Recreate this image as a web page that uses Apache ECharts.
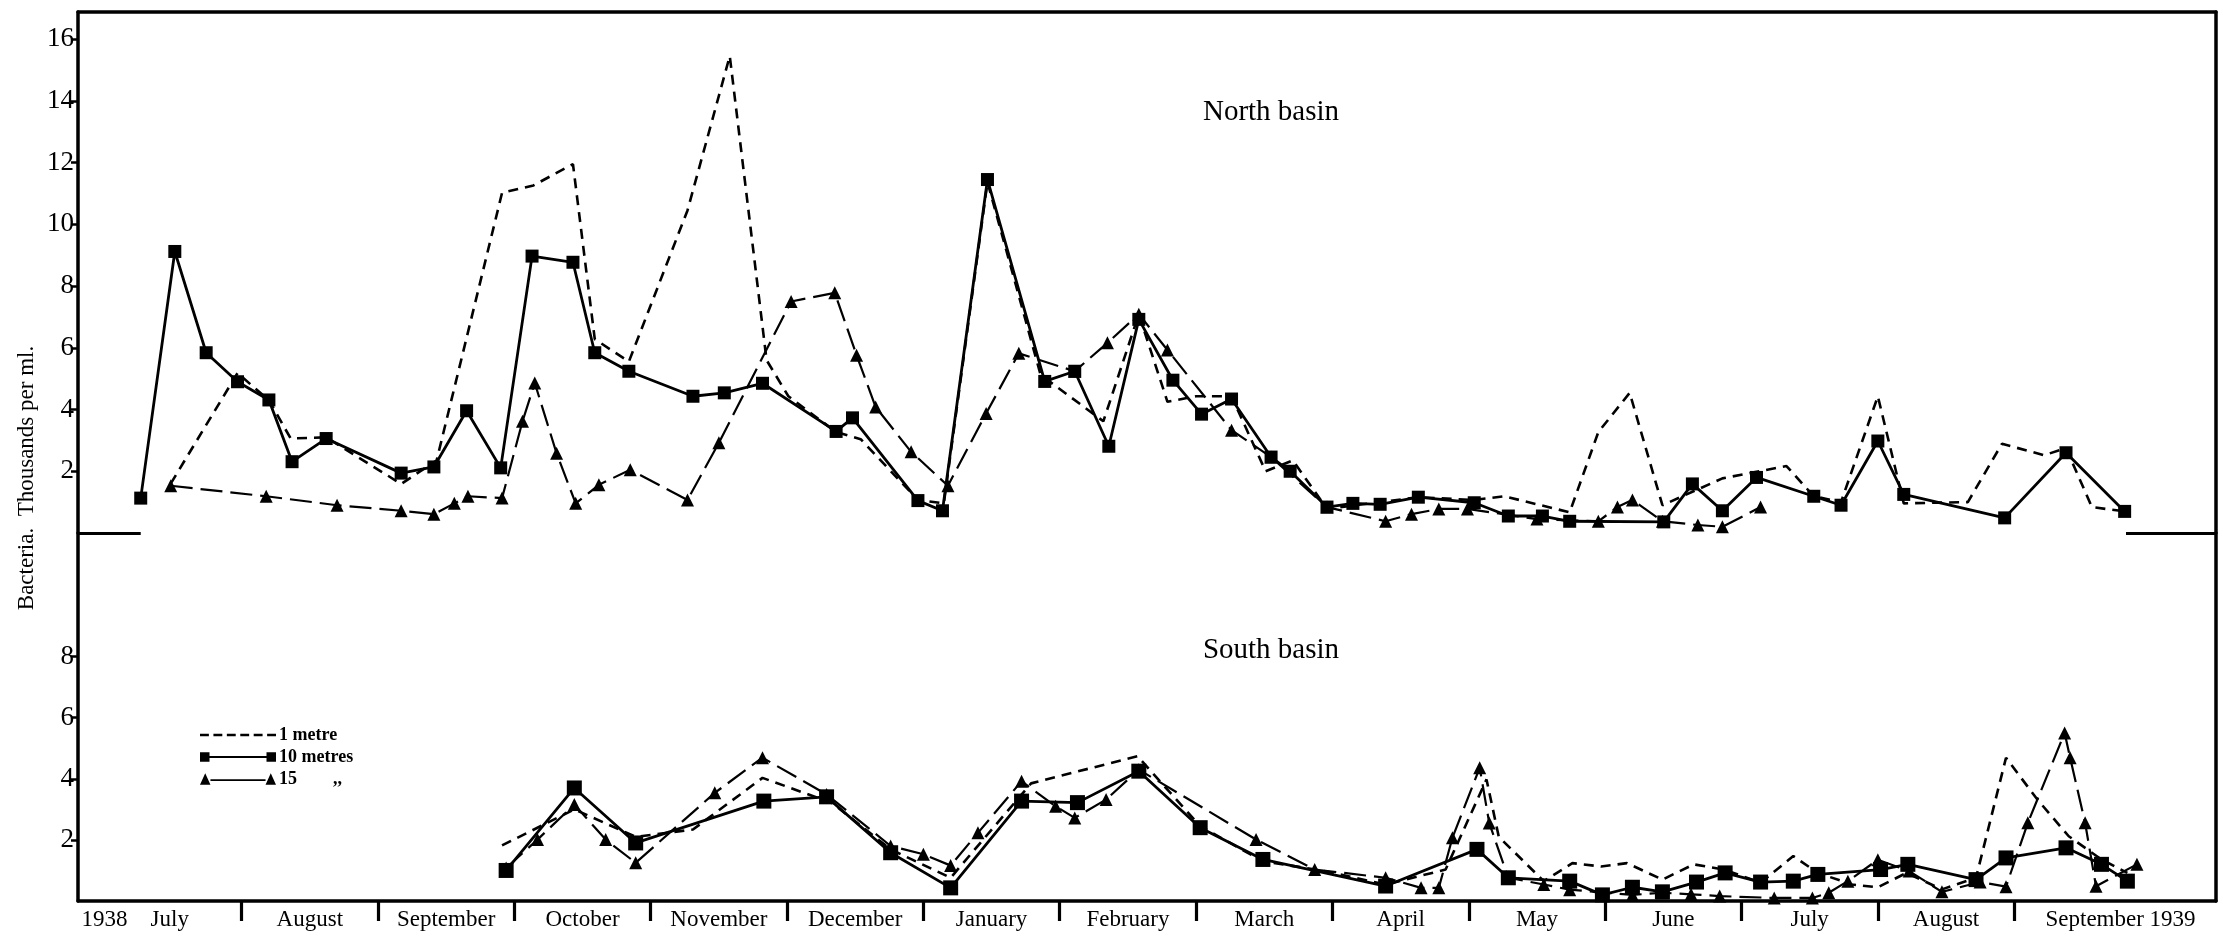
<!DOCTYPE html>
<html>
<head>
<meta charset="utf-8">
<script src="https://cdn.jsdelivr.net/npm/echarts@6/dist/echarts.min.js"></script>
<style>
  html, body { margin: 0; padding: 0; background: #fff; }
  #chart { width: 2223px; height: 937px; }
</style>
</head>
<body>
<div id="chart"></div>
<script>
// x = months since 1 July 1938 (1 = Aug 1938 ... 14 = Sep 1939), y = thousands per ml
const monthTicks = [1, 2, 3, 4, 5, 6, 7, 8, 9, 10, 11, 12, 13, 14];
const monthLabels = ['1938    July', 'August', 'September', 'October', 'November', 'December',
  'January', 'February', 'March', 'April', 'May', 'June', 'July', 'August', 'September 1939'];
const monthLabelAt = [0.22, 1.5, 2.5, 3.5, 4.5, 5.5, 6.5, 7.5, 8.5, 9.5, 10.5, 11.5, 12.5, 13.5, 14.78];
const northTicks = [2, 4, 6, 8, 10, 12, 14, 16];
const southTicks = [2, 4, 6, 8];

const northOneMetre = [
  [0.48, 1.6], [0.97, 5.18], [1.20, 4.3], [1.36, 3.06], [1.62, 3.1], [2.17, 1.59], [2.43, 2.35],
  [2.91, 11.02], [3.14, 11.26], [3.43, 11.95], [3.59, 6.28], [3.84, 5.55], [4.27, 10.45], [4.58, 15.45],
  [4.85, 5.6], [5.01, 4.43], [5.36, 3.27], [5.54, 3.04], [5.96, 1.07], [6.15, 0.96], [6.47, 11.37],
  [6.86, 5.12], [7.32, 3.62], [7.58, 7.09], [7.79, 4.25], [8.0, 4.43], [8.26, 4.43], [8.51, 2.0],
  [8.71, 2.35], [8.96, 0.78], [9.63, 1.16], [10.04, 1.07], [10.26, 1.19], [10.74, 0.67], [10.95, 3.27],
  [11.18, 4.54], [11.42, 0.9], [11.86, 1.77], [12.33, 2.17], [12.53, 1.19], [12.73, 1.0], [13.0, 4.43],
  [13.19, 0.96], [13.66, 1.0], [13.91, 2.89], [14.22, 2.52], [14.38, 2.75], [14.57, 0.84], [14.81, 0.7]
];
const northTenMetres = [
  [0.26, 1.13], [0.51, 9.12], [0.74, 5.84], [0.97, 4.9], [1.20, 4.31], [1.37, 2.31], [1.62, 3.06],
  [2.17, 1.94], [2.41, 2.14], [2.65, 3.96], [2.90, 2.11], [3.13, 8.97], [3.43, 8.77], [3.59, 5.84],
  [3.84, 5.24], [4.31, 4.43], [4.54, 4.54], [4.82, 4.85], [5.36, 3.29], [5.48, 3.73], [5.96, 1.05],
  [6.14, 0.72], [6.47, 11.45], [6.89, 4.91], [7.11, 5.24], [7.36, 2.81], [7.58, 6.92], [7.83, 4.95],
  [8.04, 3.85], [8.26, 4.34], [8.55, 2.46], [8.69, 2.0], [8.96, 0.84], [9.15, 0.96], [9.35, 0.93],
  [9.63, 1.16], [10.04, 0.98], [10.29, 0.55], [10.54, 0.55], [10.74, 0.38], [11.43, 0.36], [11.64, 1.59],
  [11.86, 0.72], [12.11, 1.8], [12.53, 1.19], [12.73, 0.9], [13.0, 2.98], [13.19, 1.25], [13.93, 0.49],
  [14.38, 2.6], [14.81, 0.7]
];
const northFifteenMetres = [
  [0.48, 1.53], [1.18, 1.19], [1.70, 0.9], [2.17, 0.72], [2.41, 0.61], [2.56, 0.96], [2.66, 1.19],
  [2.91, 1.13], [3.06, 3.62], [3.15, 4.86], [3.31, 2.58], [3.45, 0.96], [3.62, 1.56], [3.85, 2.05],
  [4.27, 1.07], [4.50, 2.92], [5.03, 7.5], [5.35, 7.78], [5.51, 5.76], [5.65, 4.08], [5.91, 2.63],
  [6.18, 1.53], [6.46, 3.87], [6.70, 5.82], [7.11, 5.24], [7.35, 6.16], [7.58, 7.09], [7.79, 5.93],
  [8.26, 3.33], [8.55, 2.46], [8.96, 0.84], [9.39, 0.38], [9.58, 0.61], [9.78, 0.78], [9.99, 0.78],
  [10.5, 0.45], [10.95, 0.38], [11.09, 0.84], [11.20, 1.07], [11.42, 0.38], [11.68, 0.26], [11.86, 0.2],
  [12.14, 0.84]
];

const southOneMetre = [
  [2.91, 1.82], [3.44, 3.0], [3.89, 2.1], [4.31, 2.34], [4.82, 4.03], [5.33, 3.21], [5.76, 1.69],
  [6.20, 0.76], [6.79, 3.85], [7.57, 4.74], [8.03, 2.45], [8.49, 1.3], [8.92, 1.0], [9.39, 0.54],
  [9.83, 1.03], [10.13, 3.98], [10.22, 2.1], [10.55, 0.65], [10.76, 1.24], [10.97, 1.13], [11.16, 1.24],
  [11.42, 0.7], [11.65, 1.2], [11.87, 1.03], [12.14, 0.6], [12.38, 1.47], [12.56, 0.92], [12.81, 0.54],
  [13.0, 0.45], [13.21, 0.92], [13.47, 0.38], [13.72, 0.76], [13.94, 4.69], [14.17, 3.32], [14.40, 2.12],
  [14.64, 1.36], [14.83, 0.92]
];
const southTenMetres = [
  [2.94, 1.0], [3.44, 3.7], [3.89, 1.9], [4.83, 3.27], [5.29, 3.41], [5.76, 1.58], [6.20, 0.43],
  [6.72, 3.27], [7.13, 3.22], [7.58, 4.25], [8.03, 2.4], [8.49, 1.36], [9.39, 0.49], [10.06, 1.69],
  [10.29, 0.76], [10.74, 0.65], [10.98, 0.2], [11.2, 0.45], [11.42, 0.3], [11.67, 0.62], [11.88, 0.92],
  [12.14, 0.62], [12.38, 0.65], [12.56, 0.87], [13.02, 1.03], [13.22, 1.2], [13.72, 0.7], [13.94, 1.41],
  [14.38, 1.74], [14.64, 1.2], [14.83, 0.65]
];
const southFifteenMetres = [
  [2.94, 1.08], [3.17, 2.01], [3.44, 3.16], [3.67, 2.01], [3.89, 1.25], [4.47, 3.54], [4.82, 4.69],
  [5.29, 3.49], [5.76, 1.8], [6.0, 1.53], [6.2, 1.16], [6.4, 2.23], [6.72, 3.92], [6.97, 3.1],
  [7.11, 2.72], [7.34, 3.32], [7.58, 4.3], [8.44, 2.01], [8.87, 1.03], [9.39, 0.76], [9.65, 0.43],
  [9.78, 0.43], [9.88, 2.07], [10.08, 4.36], [10.15, 2.55], [10.29, 0.76], [10.55, 0.54], [10.74, 0.37],
  [11.2, 0.2], [11.42, 0.27], [11.63, 0.22], [11.84, 0.16], [12.24, 0.1], [12.52, 0.1], [12.64, 0.27],
  [12.78, 0.65], [13.0, 1.35], [13.23, 0.98], [13.47, 0.3], [13.75, 0.62], [13.94, 0.47], [14.1, 2.56],
  [14.37, 5.5], [14.41, 4.69], [14.52, 2.56], [14.6, 0.48], [14.9, 1.2]
];
// short zero-line stubs drawn on the north panel (x ranges)
const northBaseStubs = [[-0.2, 0.26], [14.82, 15.48]];

const FONT = '"Liberation Serif", "DejaVu Serif", serif';
const X_MIN = -0.2, X_MAX = 15.48;

const chart = echarts.init(document.getElementById('chart'));

function nearestLabel(v) {
  let best = 0;
  monthLabelAt.forEach((p, i) => {
    if (Math.abs(p - v) < Math.abs(monthLabelAt[best] - v)) best = i;
  });
  return monthLabels[best];
}

function makeSeries(name, data, axis, south) {
  const s = {
    name: name,
    type: 'line',
    data: data,
    xAxisIndex: axis,
    yAxisIndex: axis === 0 ? 0 : 2,
    color: '#000',
    animation: false,
    z: 3
  };
  if (name === '1 metre') {
    s.showSymbol = false;
    s.symbol = 'none';
    s.lineStyle = { color: '#000', width: 2.6, type: [10, 7] };
  } else if (name === '10 metres') {
    s.symbol = 'rect';
    s.symbolSize = south ? 15 : 13;
    s.lineStyle = { color: '#000', width: 2.8, type: 'solid' };
    s.itemStyle = { color: '#000' };
    s.z = 4;
  } else {
    s.symbol = 'triangle';
    s.symbolSize = 13;
    s.lineStyle = { color: '#000', width: 2.2, type: [22, 8] };
    s.itemStyle = { color: '#000' };
  }
  return s;
}

const series = [
  makeSeries('1 metre', northOneMetre, 0, false),
  makeSeries('10 metres', northTenMetres, 0, false),
  makeSeries('15 metres', northFifteenMetres, 0, false),
  makeSeries('1 metre', southOneMetre, 2, true),
  makeSeries('10 metres', southTenMetres, 2, true),
  makeSeries('15 metres', southFifteenMetres, 2, true)
];
series[1].markLine = {
  silent: true,
  symbol: ['none', 'none'],
  label: { show: false },
  animation: false,
  lineStyle: { color: '#000', width: 3, type: 'solid' },
  data: northBaseStubs.map(s => [{ coord: [s[0], 0] }, { coord: [s[1], 0] }])
};

// legend icons: dashed line, line with squares, line with triangles
let dashPath = '';
for (let x = 0; x < 80; x += 13.6) dashPath += 'M' + x + ' 7h9v2.6h-9z';
const rectPath = 'M0 3h10v10h-10z M10 7h60v2h-60z M70 3h10v10h-10z';
const triPath = 'M0 14L5.5 2L11 14z M11 8.2h58v2h-58z M69 14L74.5 2L80 14z';

const frameLine = { show: true, onZero: false, lineStyle: { color: '#000', width: 3.5 } };

const option = {
  backgroundColor: '#fff',
  animation: false,
  textStyle: { fontFamily: FONT, color: '#000' },
  title: [
    { text: 'North basin', left: 1266, top: 93, textAlign: 'center',
      textStyle: { fontFamily: FONT, fontSize: 29, fontWeight: 'normal', color: '#000' } },
    { text: 'South basin', left: 1266, top: 631, textAlign: 'center',
      textStyle: { fontFamily: FONT, fontSize: 29, fontWeight: 'normal', color: '#000' } }
  ],
  legend: {
    orient: 'vertical',
    left: 195,
    top: 721,
    itemWidth: 76,
    itemHeight: 15,
    itemGap: 4,
    symbolKeepAspect: true,
    selectedMode: false,
    data: [
      { name: '1 metre', icon: 'path://' + dashPath },
      { name: '10 metres', icon: 'path://' + rectPath },
      { name: '15 metres', icon: 'path://' + triPath }
    ],
    formatter: n => (n === '15 metres' ? '15        ,,' : n),
    textStyle: { fontFamily: FONT, fontSize: 18, lineHeight: 16, fontWeight: 'bold', color: '#000', padding: [0, 0, 0, -2] }
  },
  graphic: [{
    type: 'text',
    x: 27,
    y: 478,
    rotation: Math.PI / 2,
    style: {
      text: 'Bacteria.  Thousands per ml.',
      font: '23px ' + FONT,
      fill: '#000',
      align: 'center',
      verticalAlign: 'middle'
    }
  }],
  grid: [
    { left: 78, right: 7, top: 12, height: 521 },
    { left: 78, right: 7, top: 533, height: 368 }
  ],
  xAxis: [
    { type: 'value', gridIndex: 0, min: X_MIN, max: X_MAX, position: 'bottom',
      axisLine: { show: false }, axisTick: { show: false }, axisLabel: { show: false }, splitLine: { show: false } },
    { type: 'value', gridIndex: 0, min: X_MIN, max: X_MAX, position: 'top',
      axisLine: frameLine, axisTick: { show: false }, axisLabel: { show: false }, splitLine: { show: false } },
    {
      type: 'value', gridIndex: 1, min: X_MIN, max: X_MAX, position: 'bottom',
      axisLine: frameLine,
      axisTick: { show: true, customValues: monthTicks, length: 20, inside: false,
        lineStyle: { color: '#000', width: 3.2 } },
      axisLabel: {
        show: true, customValues: monthLabelAt, formatter: v => nearestLabel(v),
        margin: 7, fontFamily: FONT, fontSize: 23, color: '#000'
      },
      splitLine: { show: false }
    }
  ],
  yAxis: [
    {
      type: 'value', gridIndex: 0, min: 0, max: 521 / 30.87, position: 'left',
      axisLine: frameLine,
      axisTick: { show: true, customValues: northTicks, length: 7, lineStyle: { color: '#000', width: 2.5 } },
      axisLabel: { show: true, customValues: northTicks, margin: 4, fontFamily: FONT, fontSize: 27, color: '#000' },
      splitLine: { show: false }
    },
    { type: 'value', gridIndex: 0, min: 0, max: 521 / 30.87, position: 'right',
      axisLine: frameLine, axisTick: { show: false }, axisLabel: { show: false }, splitLine: { show: false } },
    {
      type: 'value', gridIndex: 1, min: 0, max: 368 / 30.55, position: 'left',
      axisLine: frameLine,
      axisTick: { show: true, customValues: southTicks, length: 7, lineStyle: { color: '#000', width: 2.5 } },
      axisLabel: { show: true, customValues: southTicks, margin: 4, fontFamily: FONT, fontSize: 27, color: '#000' },
      splitLine: { show: false }
    },
    { type: 'value', gridIndex: 1, min: 0, max: 368 / 30.55, position: 'right',
      axisLine: frameLine, axisTick: { show: false }, axisLabel: { show: false }, splitLine: { show: false } }
  ],
  series: series
};

chart.setOption(option);
window.addEventListener('resize', () => chart.resize());
</script>
</body>
</html>
